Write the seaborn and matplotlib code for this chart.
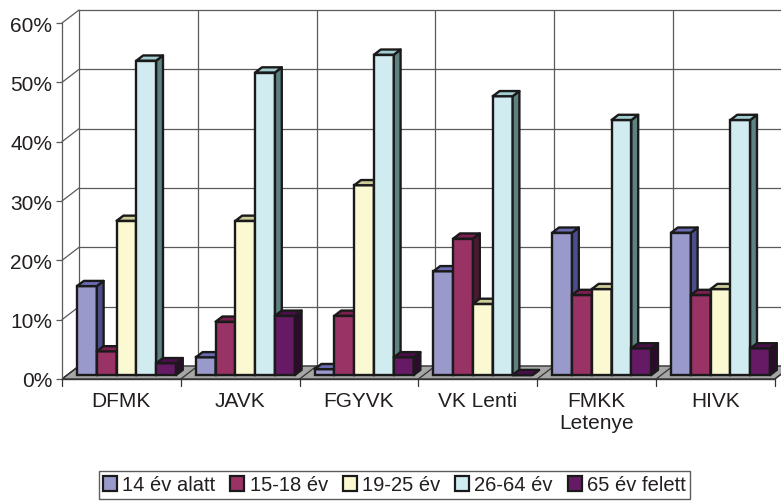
import pandas as pd
import numpy as np
import seaborn as sns
import matplotlib.pyplot as plt
from matplotlib.patches import Polygon, Patch

categories = ['DFMK', 'JAVK', 'FGYVK', 'VK Lenti', 'FMKK\nLetenye', 'HIVK']
groups = ['14 év alatt', '15-18 év', '19-25 év', '26-64 év', '65 év felett']
v_14 = [15, 3, 1, 17.5, 24, 24]
v_15_18 = [4, 9, 10, 23, 13.5, 13.5]
v_19_25 = [26, 26, 32, 12, 14.5, 14.5]
v_26_64 = [53, 51, 54, 47, 43, 43]
v_65 = [2, 10, 3, 0, 4.5, 4.5]
yticks = [0, 10, 20, 30, 40, 50, 60]

front = ['#9999CC', '#993366', '#FBF9D1', '#D1ECF1', '#661A66']
top = ['#6B6BB3', '#7A1F4F', '#CCCC99', '#A3CED1', '#4A0F4A']
side = ['#4D4D8C', '#4C1933', '#99996B', '#5E8282', '#2E0A2E']

rows = []
for g, vals in zip(groups, [v_14, v_15_18, v_19_25, v_26_64, v_65]):
    for c, v in zip(categories, vals):
        rows.append({'cat': c, 'grp': g, 'val': v})
df = pd.DataFrame(rows)

sns.set_style('white')
plt.rcParams['font.family'] = ['Liberation Sans', 'DejaVu Sans']
txt = '#231F20'

fig = plt.figure(figsize=(7.81, 5.02), dpi=100)
ppy = 5.933            # pixels per percent
ppx = 118.8            # pixels per category
ytop = 62.4
ax = fig.add_axes([62 / 781, 122 / 502, (781 - 62) / 781, ytop * ppy / 502])

# depth of the 3d box (in data units)
Dx, Dy = 17 / ppx, 13 / ppy
W = 0.833
sns.barplot(data=df, x='cat', y='val', hue='grp', order=categories, hue_order=groups,
            palette=front, width=W, saturation=1, edgecolor='#1A1A1A', linewidth=1.7,
            legend=False, ax=ax)

xmax = -0.5 + (781 - 62) / ppx
ax.set_xlim(-0.5, xmax)
ax.set_ylim(0, ytop)

# walls and floor
grid = '#5A5A5A'
floor = Polygon([(-0.5, 0), (5.5, 0), (5.5 + Dx, Dy), (-0.5 + Dx, Dy)], closed=True,
                facecolor='#A6A6A6', edgecolor='#333333', lw=1.0, zorder=2)
ax.add_patch(floor)
for t in yticks:
    ax.plot([-0.5 + Dx, xmax], [t + Dy, t + Dy], color=grid, lw=0.9, zorder=1)
    ax.plot([-0.5, -0.5 + Dx], [t, t + Dy], color=grid, lw=0.9, zorder=1, clip_on=False)
for s in np.arange(-0.5, 5.6, 1):
    ax.plot([s + Dx, s + Dx], [Dy, 60 + Dy], color=grid, lw=0.9, zorder=1)
    ax.plot([s, s + Dx], [0, Dy], color='#333333', lw=0.9, zorder=2.5)
    ax.plot([s, s], [0, -1.2], color='#333333', lw=0.9, zorder=3, clip_on=False)

# 3d faces for bars
bw = W / len(groups)
fx, fy = 0.3 * Dx, 0.3 * Dy
bdx, bdy = 0.4 * Dx, 0.4 * Dy
bars = [p for p in ax.patches if p is not floor]
for p in bars:
    x0 = p.get_x()
    h = p.get_height()
    cx = x0 + p.get_width() / 2
    ci = int(round(cx))
    k = int(np.clip(np.floor((cx - ci + W / 2) / bw), 0, len(groups) - 1))
    x0 += fx
    x1 = x0 + p.get_width()
    y0, y1 = fy, fy + h
    p.set_x(x0)
    p.set_y(y0)
    p.set_zorder(10 + 2 * k)
    p.set_clip_on(False)
    tp = Polygon([(x0, y1), (x1, y1), (x1 + bdx, y1 + bdy), (x0 + bdx, y1 + bdy)],
                 closed=True, facecolor=top[k], edgecolor='#1A1A1A', lw=1.7,
                 joinstyle='round', zorder=10.5 + 2 * k, clip_on=False)
    sp = Polygon([(x1, y0), (x1 + bdx, y0 + bdy), (x1 + bdx, y1 + bdy), (x1, y1)],
                 closed=True, facecolor=side[k], edgecolor='#1A1A1A', lw=1.7,
                 joinstyle='round', zorder=10.5 + 2 * k, clip_on=False)
    ax.add_patch(sp)
    ax.add_patch(tp)

# axes
for sp_name in ['top', 'right', 'bottom']:
    ax.spines[sp_name].set_visible(False)
ax.spines['left'].set_bounds(0, 60)
ax.spines['left'].set_color(grid)
ax.spines['left'].set_linewidth(0.9)
ax.plot([-0.5, 5.5], [0, 0], color='#333333', lw=1.0, zorder=3, clip_on=False)
ax.set_yticks(yticks)
ax.set_yticklabels([f'{t}%' for t in yticks], fontsize=15, color=txt)
ax.tick_params(axis='y', length=4, width=0.9, color=grid, pad=3, left=True)
ax.set_xticks(range(len(categories)))
ax.set_xticklabels(categories, fontsize=15, color=txt, linespacing=1.15)
ax.tick_params(axis='x', length=0, pad=9)
ax.set_xlabel('')
ax.set_ylabel('')
ax.grid(False)

handles = [Patch(facecolor=c, edgecolor='#1A1A1A', lw=1.6) for c in front]
leg = fig.legend(handles, groups, loc='center', bbox_to_anchor=(394.5 / 781, 1 - 486 / 502),
                 ncol=5, frameon=True, fancybox=False, edgecolor='#333333', fontsize=14.5,
                 handlelength=0.7, handleheight=0.7, handletextpad=0.25,
                 columnspacing=0.75, borderpad=0.2, borderaxespad=0)
leg.get_frame().set_linewidth(1.0)
for t in leg.get_texts():
    t.set_color(txt)

fig.savefig('out.png', dpi=100)
